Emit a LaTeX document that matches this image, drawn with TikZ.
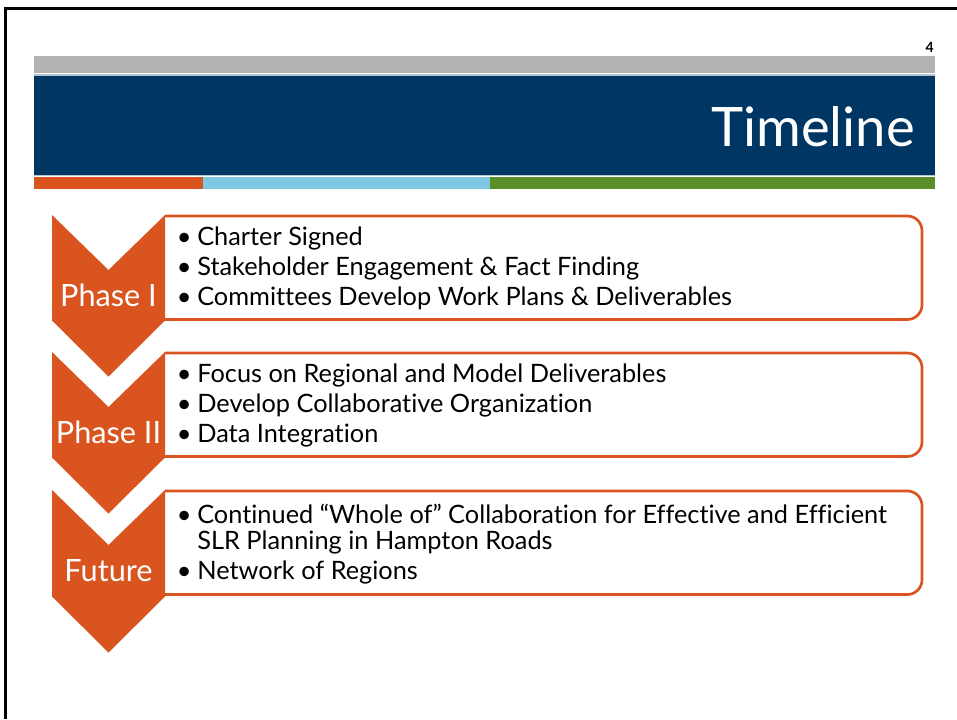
\documentclass[tikz,border=0pt]{standalone}
\usepackage{fontspec}
\setmainfont{Lato}[Ligatures={TeX,NoCommon}]
\usetikzlibrary{positioning}

\definecolor{slideorange}{HTML}{D9541E}
\definecolor{slidenavy}{HTML}{003663}
\definecolor{slidegray}{HTML}{B2B2B2}
\definecolor{slidesky}{HTML}{7FC8E4}
\definecolor{slidegreen}{HTML}{5A8E28}

\newcommand{\bul}{\makebox[15.4pt][l]{\textbullet}}

\begin{document}
\begin{tikzpicture}[x=0.75pt, y=-0.75pt,
        phase/.style={fill=slideorange, draw=none},
        itembox/.style={draw=slideorange, line width=2pt, rounded corners=11pt},
        phasename/.style={anchor=base, inner sep=0pt, text=white, font=\fontsize{23}{27}\selectfont},
        item/.style={anchor=base west, inner sep=0pt, font=\fontsize{19}{23}\selectfont},
    ]
    \useasboundingbox (0,0) rectangle (957,719);
    \fill[white] (0,0) rectangle (957,719);
    \draw[line width=2pt] (5.5,719) -- (5.5,8.5) -- (957,8.5);

    % Header
    \node[anchor=base east, inner sep=0pt, font=\bfseries\fontsize{10.5}{12}\selectfont] (pagenum) at (934,52) {4};
    \fill[slidegray] (34,56) rectangle (935,72.5);
    \fill[slidenavy!30] (34,74) rectangle (935,176);
    \fill[slidenavy] (34,75.5) rectangle (935,174.5);
    \node[anchor=base east, inner sep=0pt, text=white, font=\fontsize{40.8}{46}\selectfont] (title) at (915,146) {Timeline};
    \fill[slideorange] (34,177) rectangle (203,189);
    \fill[slidesky] (203,177) rectangle (490,189);
    \fill[slidegreen] (490,177) rectangle (935,189);

    % Boxes
    \draw[itembox] (165,216) -- (922,216) -- (922,319.5) -- (165,319.5);
    \draw[itembox] (165,353) -- (922,353) -- (922,456.5) -- (165,456.5);
    \draw[itembox] (165,491) -- (922,491) -- (922,594.5) -- (165,594.5);

    % Chevrons
    \fill[phase] (52,215) -- (108.5,270) -- (165,215) -- (165,320.5) -- (108.5,376.5) -- (52,320.5) -- cycle;
    \fill[phase] (52,352) -- (108.5,407) -- (165,352) -- (165,457.5) -- (108.5,513.5) -- (52,457.5) -- cycle;
    \fill[phase] (52,490) -- (108.5,545) -- (165,490) -- (165,596.5) -- (108.5,652.5) -- (52,596.5) -- cycle;

    \node[phasename] (phaseone) at (108.5,306) {Phase I};
    \node[phasename] (phasetwo) at (108.5,443.5) {Phase II};
    \node[phasename] (future) at (108.5,581.5) {Future};

    % Phase I
    \node[item] (p1a) at (176.5,245.7) {\bul Charter Signed};
    \node[item] (p1b) at (176.5,275.5) {\bul Stakeholder Engagement \& Fact Finding};
    \node[item] (p1c) at (176.5,305.5) {\bul Committees Develop Work Plans \& Deliverables};

    % Phase II
    \node[item] (p2a) at (176.5,382.7) {\bul Focus on Regional and Model Deliverables};
    \node[item] (p2b) at (176.5,412.5) {\bul Develop Collaborative Organization};
    \node[item] (p2c) at (176.5,442.5) {\bul Data Integration};

    % Future
    \node[item] (f1a) at (176.5,523) {\bul Continued “Whole of” Collaboration for Effective and Efficient};
    \node[item] (f1b) at (176.5,549) {\makebox[15.4pt]{}SLR Planning in Hampton Roads};
    \node[item] (f2) at (176.5,579) {\bul Network of Regions};
\end{tikzpicture}
\end{document}
